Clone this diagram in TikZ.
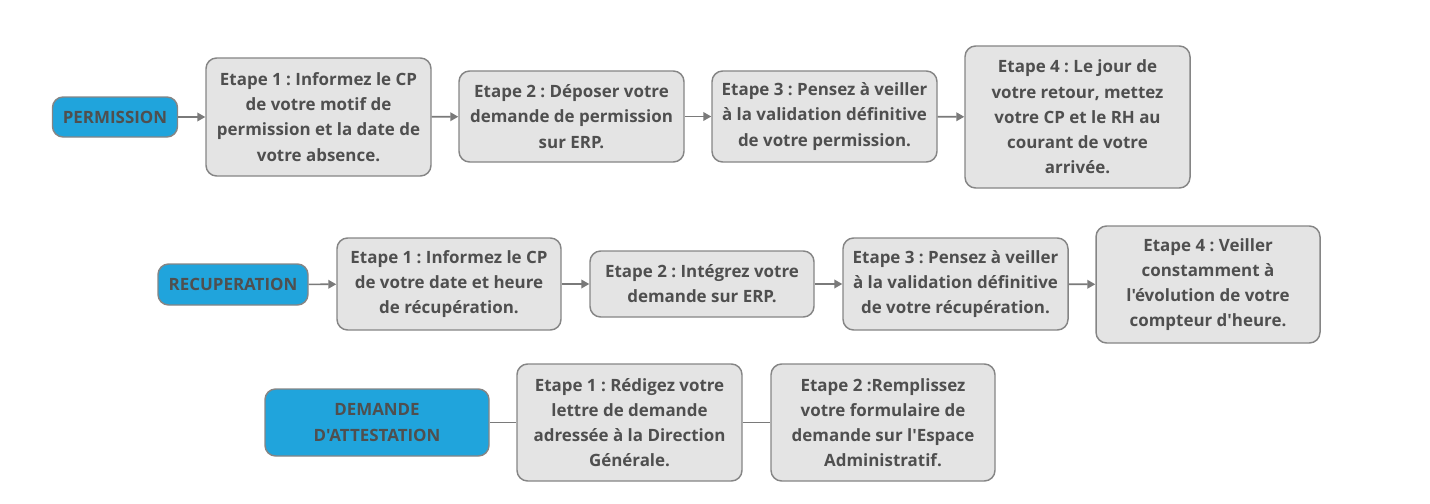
\documentclass[tikz,border=0pt]{standalone}
\usepackage{fontspec}
\setmainfont{Open Sans}[Ligatures=TeXOff]
\usetikzlibrary{arrows.meta}
\definecolor{boxfill}{HTML}{E4E4E4}
\definecolor{boxdraw}{HTML}{858585}
\definecolor{txt}{HTML}{4F4F4F}
\definecolor{bluefill}{HTML}{20A4DC}
\definecolor{linec}{HTML}{7A7A7A}
\tikzset{
  stepbox/.style={draw=boxdraw, fill=boxfill, line width=1.1pt, rounded corners=8pt,
    text=txt, font=\frenchspacing\bfseries\fontsize{12.7pt}{18.9pt}\selectfont, align=center,
    inner sep=0pt, anchor=center},
  headbox/.style={stepbox, fill=bluefill},
  arr/.style={draw=linec, line width=1.2pt, -{Triangle[length=6pt,width=6.5pt]}},
  link/.style={draw=linec, line width=1.1pt},
}
\begin{document}
\frenchspacing
\begin{tikzpicture}[x=0.75pt,y=-0.75pt]
\useasboundingbox (0,0) rectangle (1430,503);
% Row 1
\node[headbox, minimum width=125*0.75pt, minimum height=40*0.75pt] (p0) at (115,117) {PERMISSION};
\node[stepbox, minimum width=225*0.75pt, minimum height=118*0.75pt] (p1) at (318.5,117) {Etape 1 : Informez le CP\\de votre motif de\\permission et la date de\\votre absence.};
\node[stepbox, minimum width=225*0.75pt, minimum height=91*0.75pt] (p2) at (571.5,116.5) {Etape 2 : Déposer votre\\demande de permission\\sur ERP.};
\node[stepbox, minimum width=225*0.75pt, minimum height=91*0.75pt] (p3) at (824.5,116.5) {Etape 3 : Pensez à veiller\\à la validation définitive\\de votre permission.};
\node[stepbox, minimum width=225*0.75pt, minimum height=142*0.75pt] (p4) at (1077.5,117) {Etape 4 : Le jour de\\votre retour, mettez\\votre CP et le RH au\\courant de votre\\arrivée.};
\draw[arr] (p0) -- (p1);
\draw[arr] (p1) -- (p2);
\draw[arr] (p2) -- (p3);
\draw[arr] (p3) -- (p4);
% Row 2
\node[headbox, minimum width=150*0.75pt, minimum height=41*0.75pt] (r0) at (233,284.5) {RECUPERATION};
\node[stepbox, minimum width=224*0.75pt, minimum height=92*0.75pt] (r1) at (449,284) {Etape 1 : Informez le CP\\de votre date et heure\\de récupération.};
\node[stepbox, minimum width=224*0.75pt, minimum height=66*0.75pt] (r2) at (702,284) {Etape 2 : Intégrez votre\\demande sur ERP.};
\node[stepbox, minimum width=225*0.75pt, minimum height=92*0.75pt] (r3) at (955.5,284) {Etape 3 : Pensez à veiller\\à la validation définitive\\de votre récupération.};
\node[stepbox, minimum width=224*0.75pt, minimum height=117*0.75pt] (r4) at (1208,284.5) {Etape 4 : Veiller\\constamment à\\l'évolution de votre\\compteur d'heure.};
\draw[arr] (r0) -- (r1);
\draw[arr] (r1) -- (r2);
\draw[arr] (r2) -- (r3);
\draw[arr] (r3) -- (r4);
% Row 3
\node[headbox, minimum width=224*0.75pt, minimum height=67*0.75pt] (d0) at (377,422.5) {DEMANDE\\D'ATTESTATION};
\node[stepbox, minimum width=225*0.75pt, minimum height=117*0.75pt] (d1) at (629.5,422.5) {Etape 1 : Rédigez votre\\lettre de demande\\adressée à la Direction\\Générale.};
\node[stepbox, minimum width=224*0.75pt, minimum height=117*0.75pt] (d2) at (883,422.5) {Etape 2 :Remplissez\\votre formulaire de\\demande sur l'Espace\\Administratif.};
\draw[link] (d0) -- (d1);
\draw[link] (d1) -- (d2);
\end{tikzpicture}
\end{document}
